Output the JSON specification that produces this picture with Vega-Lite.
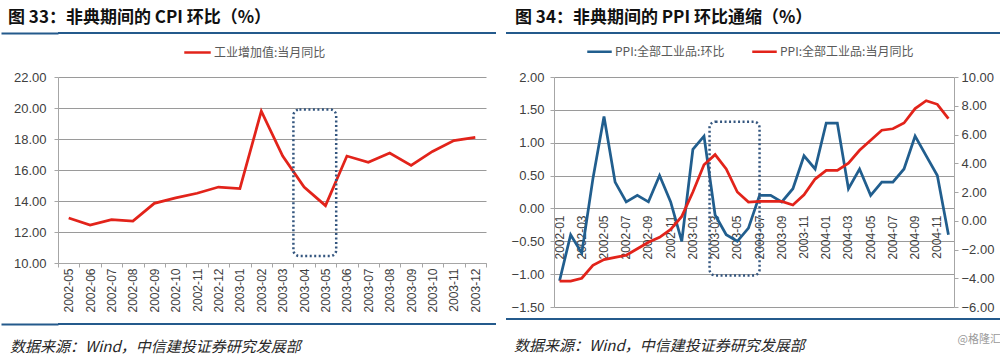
{
  "$schema": "https://vega.github.io/schema/vega-lite/v6.json",
  "padding": {"top": 9, "left": 0, "right": 0, "bottom": 0},
  "background": "white",
  "columns": 2,
  "align": "none",
  "spacing": {"row": 0, "column": 10},
  "resolve": {
    "scale": {"x": "independent", "y": "independent", "color": "independent"},
    "legend": {"color": "independent"}
  },
  "config": {
    "view": {"stroke": null},
    "font": "Liberation Sans",
    "axis": {
      "labelFont": "Liberation Sans",
      "labelFontSize": 13,
      "labelColor": "#404040",
      "labelOverlap": false,
      "domainColor": "#A6A6A6",
      "tickColor": "#A6A6A6",
      "gridColor": "#9A9A9A",
      "gridWidth": 1
    },
    "legend": {
      "labelFont": "Noto Sans CJK SC",
      "labelFontSize": 12,
      "labelColor": "#595959",
      "labelLimit": 400
    }
  },
  "concat": [
    {
      "width": 438,
      "height": 2,
      "view": {"fill": "#245A8C", "stroke": null},
      "title": {"text": "图 33：非典期间的 CPI 环比（%）", "anchor": "start", "frame": "bounds", "dx": 8, "offset": 0, "fontSize": 17, "font": "Noto Sans CJK SC", "fontWeight": "bold", "color": "#111111"},
      "data": {"values": [{"t": ""}]},
      "mark": {"type": "text"},
      "encoding": {
        "text": {"field": "t", "type": "nominal"},
        "y": {"datum": 0.5, "type": "quantitative", "scale": {"domain": [0, 1]},
          "axis": {"values": [0.5], "tickCount": 5, "tickSize": 57, "tickWidth": 2, "tickColor": "#245A8C", "labels": false, "domain": false, "grid": false, "title": null, "maxExtent": 57}}
      }
    },
    {
      "width": 495,
      "height": 2,
      "view": {"fill": "#245A8C", "stroke": null},
      "title": {"text": "图 34：非典期间的 PPI 环比通缩（%）", "anchor": "start", "frame": "bounds", "dx": 9, "offset": 0, "fontSize": 17, "font": "Noto Sans CJK SC", "fontWeight": "bold", "color": "#111111"},
      "data": {"values": [{"t": ""}]},
      "mark": {"type": "text"},
      "encoding": {"text": {"field": "t", "type": "nominal"}}
    },
    {
      "width": 428,
      "height": 186,
      "data": {"values": [
        {"m": "2002-05", "v": 12.9},
        {"m": "2002-06", "v": 12.45},
        {"m": "2002-07", "v": 12.8},
        {"m": "2002-08", "v": 12.7},
        {"m": "2002-09", "v": 13.85},
        {"m": "2002-10", "v": 14.2},
        {"m": "2002-11", "v": 14.5},
        {"m": "2002-12", "v": 14.9},
        {"m": "2003-01", "v": 14.8},
        {"m": "2003-02", "v": 19.8},
        {"m": "2003-03", "v": 16.9},
        {"m": "2003-04", "v": 14.9},
        {"m": "2003-05", "v": 13.7},
        {"m": "2003-06", "v": 16.9},
        {"m": "2003-07", "v": 16.5},
        {"m": "2003-08", "v": 17.1},
        {"m": "2003-09", "v": 16.3},
        {"m": "2003-10", "v": 17.2},
        {"m": "2003-11", "v": 17.9},
        {"m": "2003-12", "v": 18.1}
      ]},
      "layer": [
        {
          "mark": {"type": "line", "strokeWidth": 2.75, "strokeJoin": "miter"},
          "encoding": {
            "x": {"field": "m", "type": "nominal", "sort": null,
              "scale": {"type": "band", "paddingInner": 0, "paddingOuter": 0},
              "axis": {"title": " ", "titleFontSize": 5, "titlePadding": 0, "labelAngle": -90, "labelFontSize": 12, "tickBand": "extent", "tickSize": 4, "labelPadding": 1, "grid": false}},
            "y": {"field": "v", "type": "quantitative",
              "scale": {"domain": [10, 22], "nice": false, "zero": false},
              "axis": {"title": null, "values": [10, 12, 14, 16, 18, 20, 22], "tickCount": 20, "format": ".2f", "grid": true, "tickSize": 4, "labelPadding": 8, "minExtent": 57}},
            "color": {"datum": "工业增加值:当月同比", "type": "nominal",
              "scale": {"range": ["#E2231A"]},
              "legend": {"title": null, "orient": "none", "legendX": 125, "legendY": -39, "direction": "horizontal", "symbolType": "stroke", "symbolStrokeWidth": 2.5, "symbolSize": 700, "labelOffset": 2}}
          }
        },
        {
          "data": {"values": [{"period": "非典"}]},
          "mark": {"type": "rect", "fill": "transparent", "stroke": "#34567F", "strokeWidth": 2.5, "strokeDash": [2, 2.5], "cornerRadius": 6},
          "encoding": {
            "x": {"datum": "2003-04", "type": "nominal", "bandPosition": 0},
            "x2": {"datum": "2003-05", "bandPosition": 1},
            "y": {"datum": 19.9, "type": "quantitative"},
            "y2": {"datum": 10.45}
          }
        }
      ]
    },
    {
      "width": 400,
      "height": 230,
      "data": {"values": [
        {"m": "2002-01", "mom": -1.10, "yoy": -4.2},
        {"m": "2002-02", "mom": -0.40, "yoy": -4.2},
        {"m": "2002-03", "mom": -0.68, "yoy": -4.0},
        {"m": "2002-04", "mom": 0.45, "yoy": -3.1},
        {"m": "2002-05", "mom": 1.40, "yoy": -2.7},
        {"m": "2002-06", "mom": 0.40, "yoy": -2.55},
        {"m": "2002-07", "mom": 0.10, "yoy": -2.4},
        {"m": "2002-08", "mom": 0.20, "yoy": -1.95},
        {"m": "2002-09", "mom": 0.10, "yoy": -1.5},
        {"m": "2002-10", "mom": 0.50, "yoy": -1.15},
        {"m": "2002-11", "mom": 0.10, "yoy": -0.6},
        {"m": "2002-12", "mom": -0.50, "yoy": 0.3},
        {"m": "2003-01", "mom": 0.90, "yoy": 2.0},
        {"m": "2003-02", "mom": 1.10, "yoy": 3.9},
        {"m": "2003-03", "mom": -0.10, "yoy": 4.6},
        {"m": "2003-04", "mom": -0.40, "yoy": 3.6},
        {"m": "2003-05", "mom": -0.50, "yoy": 2.0},
        {"m": "2003-06", "mom": -0.30, "yoy": 1.3},
        {"m": "2003-07", "mom": 0.20, "yoy": 1.35},
        {"m": "2003-08", "mom": 0.20, "yoy": 1.35},
        {"m": "2003-09", "mom": 0.10, "yoy": 1.35},
        {"m": "2003-10", "mom": 0.30, "yoy": 1.1},
        {"m": "2003-11", "mom": 0.80, "yoy": 1.8},
        {"m": "2003-12", "mom": 0.60, "yoy": 2.9},
        {"m": "2004-01", "mom": 1.30, "yoy": 3.5},
        {"m": "2004-02", "mom": 1.30, "yoy": 3.5},
        {"m": "2004-03", "mom": 0.30, "yoy": 4.0},
        {"m": "2004-04", "mom": 0.60, "yoy": 4.9},
        {"m": "2004-05", "mom": 0.20, "yoy": 5.6},
        {"m": "2004-06", "mom": 0.40, "yoy": 6.3},
        {"m": "2004-07", "mom": 0.40, "yoy": 6.4},
        {"m": "2004-08", "mom": 0.60, "yoy": 6.8},
        {"m": "2004-09", "mom": 1.10, "yoy": 7.8},
        {"m": "2004-10", "mom": 0.80, "yoy": 8.35},
        {"m": "2004-11", "mom": 0.50, "yoy": 8.1},
        {"m": "2004-12", "mom": -0.40, "yoy": 7.1}
      ]},
      "resolve": {"scale": {"y": "independent"}},
      "layer": [
        {
          "layer": [
            {
              "mark": {"type": "line", "strokeWidth": 2.75, "strokeJoin": "miter"},
              "encoding": {
                "x": {"field": "m", "type": "nominal", "sort": null,
                  "scale": {"type": "band", "paddingInner": 0, "paddingOuter": 0},
                  "axis": {"title": null, "labelAngle": -90, "labelFontSize": 12, "offset": -96, "ticks": false, "domain": false, "labelPadding": 4, "grid": false,
                    "values": ["2002-01", "2002-03", "2002-05", "2002-07", "2002-09", "2002-11", "2003-01", "2003-03", "2003-05", "2003-07", "2003-09", "2003-11", "2004-01", "2004-03", "2004-05", "2004-07", "2004-09", "2004-11"]}},
                "y": {"field": "mom", "type": "quantitative",
                  "scale": {"domain": [-1.5, 2], "nice": false, "zero": false},
                  "axis": {"title": null, "orient": "left", "values": [-1.5, -1, -0.5, 0, 0.5, 1, 1.5, 2], "tickCount": 20, "format": ".2f", "grid": true, "tickSize": 4, "labelPadding": 6, "minExtent": 48}},
                "color": {"datum": "PPI:全部工业品:环比", "type": "nominal",
                  "scale": {"domain": ["PPI:全部工业品:环比", "PPI:全部工业品:当月同比"], "range": ["#215E8E", "#E2231A"]},
                  "legend": {"title": null, "orient": "none", "legendX": 32, "legendY": -39, "direction": "horizontal", "symbolType": "stroke", "symbolStrokeWidth": 2.5, "symbolSize": 600, "labelOffset": 2, "columnPadding": 22}}
              }
            },
            {
              "data": {"values": [{"period": "非典"}]},
              "mark": {"type": "rect", "fill": "transparent", "stroke": "#34567F", "strokeWidth": 2.5, "strokeDash": [2, 2.5], "cornerRadius": 6},
              "encoding": {
                "x": {"datum": "2003-03", "type": "nominal", "bandPosition": 0},
                "x2": {"datum": "2003-07", "bandPosition": 0.5},
                "y": {"datum": 1.32, "type": "quantitative"},
                "y2": {"datum": -1.02}
              }
            }
          ]
        },
        {
          "mark": {"type": "line", "strokeWidth": 2.75, "strokeJoin": "miter"},
          "encoding": {
            "x": {"field": "m", "type": "nominal", "sort": null},
            "y": {"field": "yoy", "type": "quantitative",
              "scale": {"domain": [-6, 10], "nice": false, "zero": false},
              "axis": {"title": null, "orient": "right", "values": [-6, -4, -2, 0, 2, 4, 6, 8, 10], "tickCount": 20, "format": ".2f", "grid": false, "tickSize": 4, "labelPadding": 3}},
            "color": {"datum": "PPI:全部工业品:当月同比", "type": "nominal"}
          }
        }
      ]
    },
    {
      "width": 438,
      "height": 2,
      "view": {"fill": "#245A8C", "stroke": null},
      "title": {"text": "数据来源：Wind，中信建投证券研究发展部", "orient": "bottom", "anchor": "start", "frame": "bounds", "dx": 10, "offset": 11, "fontSize": 15, "fontStyle": "italic", "fontWeight": "normal", "font": "Noto Sans CJK SC", "color": "#262626"},
      "data": {"values": [{"t": ""}]},
      "mark": {"type": "text"},
      "encoding": {
        "text": {"field": "t", "type": "nominal"},
        "y": {"datum": 0.5, "type": "quantitative", "scale": {"domain": [0, 1]},
          "axis": {"values": [0.5], "tickCount": 5, "tickSize": 57, "tickWidth": 2, "tickColor": "#245A8C", "labels": false, "domain": false, "grid": false, "title": null, "maxExtent": 57}}
      }
    },
    {
      "width": 495,
      "height": 2,
      "view": {"fill": "#245A8C", "stroke": null},
      "title": {"text": "数据来源：Wind，中信建投证券研究发展部", "orient": "bottom", "anchor": "start", "frame": "group", "dx": 8, "offset": -6, "fontSize": 15, "fontStyle": "italic", "fontWeight": "normal", "font": "Noto Sans CJK SC", "color": "#262626"},
      "data": {"values": [{"t": "@格隆汇"}]},
      "mark": {"type": "text", "align": "right", "baseline": "middle", "font": "Noto Sans CJK SC", "fontSize": 11, "color": "#9A9A9A"},
      "encoding": {
        "text": {"field": "t", "type": "nominal"},
        "x": {"value": "width"},
        "y": {"value": 22}
      }
    }
  ]
}
